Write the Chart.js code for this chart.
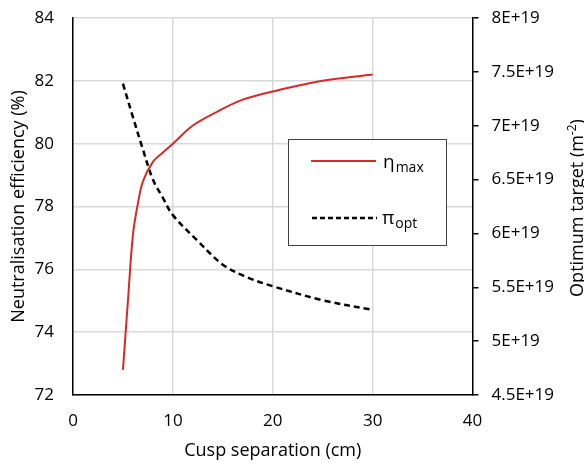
<!DOCTYPE html>
<html>
<head>
<meta charset="utf-8">
<script src="https://cdn.jsdelivr.net/npm/chart.js@4.4.1/dist/chart.umd.min.js"></script>
<style>
html,body{margin:0;padding:0;background:#fff;}
#wrap{width:584px;height:463px;position:relative;}
</style>
</head>
<body>
<div id="wrap"><canvas id="c" width="584" height="463"></canvas></div>
<script>
// ---- data ----
const etaX   = [5, 5.5, 6, 6.5, 7, 8, 9, 10, 12, 14.5, 17, 20, 25, 30];
const etaMax = [72.8, 75.0, 77.1, 78.1, 78.8, 79.42, 79.72, 80.0, 80.58, 81.03, 81.4, 81.66, 82.0, 82.2];
const piX    = [5, 6, 7, 8, 9, 10, 12.5, 15, 17.5, 20, 25, 30];
const piOpt  = [7.39e19, 7.08e19, 6.78e19, 6.50e19, 6.33e19, 6.17e19, 5.93e19, 5.71e19, 5.59e19, 5.51e19, 5.38e19, 5.29e19];
const xTicks = [0, 10, 20, 30, 40];
const leftTicks = [72, 74, 76, 78, 80, 82, 84];
const rightTicks = [4.5e19, 5e19, 5.5e19, 6e19, 6.5e19, 7e19, 7.5e19, 8e19];
const seriesNames = [["η", "max"], ["π", "opt"]];
const rightTitleParts = ['Optimum target (m', '-2', ')'];

const FONT = "'Open Sans', sans-serif";
const RED = '#d42a2a';

const legendPlugin = {
  id: 'customLegend',
  afterDraw(chart) {
    const ctx = chart.ctx;
    ctx.save();
    const bx = 288.5, by = 139.5, bw = 158, bh = 106;
    ctx.fillStyle = '#fff';
    ctx.fillRect(bx, by, bw, bh);
    ctx.strokeStyle = '#404040';
    ctx.lineWidth = 1;
    ctx.strokeRect(bx, by, bw, bh);
    ctx.strokeStyle = RED; ctx.lineWidth = 2;
    ctx.beginPath(); ctx.moveTo(311, 161); ctx.lineTo(376, 161); ctx.stroke();
    ctx.strokeStyle = '#000'; ctx.lineWidth = 2.5; ctx.setLineDash([5, 3]);
    ctx.beginPath(); ctx.moveTo(312, 218); ctx.lineTo(377, 218); ctx.stroke();
    ctx.setLineDash([]);
    ctx.fillStyle = '#000';
    ctx.textBaseline = 'alphabetic';
    ctx.textAlign = 'left';
    const rows = [[383, 168], [382, 224]];
    seriesNames.forEach((n, i) => {
      ctx.font = "19px " + FONT;
      ctx.fillText(n[0], rows[i][0], rows[i][1]);
      const w = ctx.measureText(n[0]).width;
      ctx.font = "14px " + FONT;
      ctx.fillText(n[1], rows[i][0] + w + 1, rows[i][1] + 4);
    });
    // right axis title, reading bottom to top, with superscript
    const big = "18px " + FONT, small = "12px " + FONT;
    ctx.font = big; const w0 = ctx.measureText(rightTitleParts[0]).width;
    const w2 = ctx.measureText(rightTitleParts[2]).width;
    ctx.font = small; const w1 = ctx.measureText(rightTitleParts[1]).width;
    const total = w0 + w1 + w2;
    ctx.translate(583, 208);
    ctx.rotate(-Math.PI / 2);
    let x = -total / 2;
    ctx.textBaseline = 'alphabetic';
    ctx.font = big; ctx.fillText(rightTitleParts[0], x, 0); x += w0;
    ctx.font = small; ctx.fillText(rightTitleParts[1], x, -7); x += w1;
    ctx.font = big; ctx.fillText(rightTitleParts[2], x, 0);
    ctx.restore();
  }
};

const noPad = s => { s.paddingTop = 0; s.paddingBottom = 0; };

new Chart(document.getElementById('c'), {
  type: 'line',
  data: {
    datasets: [
      {
        label: 'η max',
        data: etaX.map((x, i) => ({x, y: etaMax[i]})),
        borderColor: RED, borderWidth: 2, pointRadius: 0,
        tension: 0.35, yAxisID: 'y', fill: false
      },
      {
        label: 'π opt',
        data: piX.map((x, i) => ({x, y: piOpt[i]})),
        borderColor: '#000', borderWidth: 2.5, borderDash: [6, 4], pointRadius: 0,
        tension: 0.35, yAxisID: 'y2', fill: false
      }
    ]
  },
  options: {
    responsive: false,
    animation: false,
    devicePixelRatio: 1,
    layout: { padding: { top: 18, left: 0, right: 0, bottom: 0 } },
    plugins: { legend: { display: false }, tooltip: { enabled: false } },
    scales: {
      x: {
        type: 'linear', min: 0, max: 40,
        afterBuildTicks: s => { s.ticks = xTicks.map(v => ({value: v})); },
        afterFit: s => { s.height = 68; },
        grid: { color: '#d9d9d9', lineWidth: 1.5, drawTicks: false },
        border: { color: '#000', width: 1.5 },
        ticks: { color: '#000', font: { family: FONT, size: 17 }, padding: 16, maxRotation: 0 },
        title: { display: true, text: 'Cusp separation (cm)', color: '#000', font: { family: FONT, size: 18 }, padding: { top: 0, bottom: 1 } }
      },
      y: {
        position: 'left', min: 72, max: 84,
        afterBuildTicks: s => { s.ticks = leftTicks.map(v => ({value: v})); },
        afterFit: s => { s.width = 73; noPad(s); },
        grid: { color: '#d9d9d9', lineWidth: 1.5, drawTicks: false },
        border: { color: '#000', width: 1.5 },
        ticks: { color: '#000', font: { family: FONT, size: 17 }, padding: 19 },
        title: { display: true, text: 'Neutralisation efficiency (%)', color: '#000', font: { family: FONT, size: 18 }, padding: { top: 8, bottom: 0 } }
      },
      y2: {
        position: 'right', min: 4.5e19, max: 8e19,
        afterBuildTicks: s => { s.ticks = rightTicks.map(v => ({value: v})); },
        afterFit: s => { s.width = 111.5; noPad(s); },
        grid: { drawOnChartArea: false, color: '#000', tickLength: 6, lineWidth: 1.5 },
        border: { color: '#000', width: 1.5 },
        ticks: { color: '#000', font: { family: FONT, size: 17 }, padding: 13,
          callback: v => (Math.round(v / 1e18) / 10) + 'E+19' },
        title: { display: false }
      }
    }
  },
  plugins: [legendPlugin]
});
</script>
</body>
</html>
